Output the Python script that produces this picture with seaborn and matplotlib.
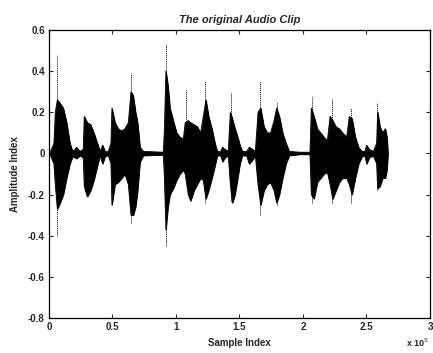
import numpy as np
import pandas as pd
import seaborn as sns
import matplotlib
matplotlib.use("Agg")
import matplotlib.pyplot as plt

# envelope of the clip, sample index in units of 1e5
sample_e5 = [0.008, 0.039, 0.050, 0.066, 0.081, 0.113, 0.139, 0.165, 0.186, 0.205,
             0.218, 0.244, 0.270, 0.278, 0.302, 0.328, 0.354, 0.381, 0.402, 0.423,
             0.441, 0.467, 0.488, 0.496, 0.520, 0.546, 0.572, 0.598, 0.625, 0.646,
             0.664, 0.682, 0.698, 0.717, 0.743, 0.900, 0.908, 0.921, 0.937, 0.953,
             0.979, 1.005, 1.031, 1.058, 1.073, 1.097, 1.115, 1.142, 1.168, 1.194,
             1.215, 1.236, 1.257, 1.283, 1.307, 1.325, 1.352, 1.367, 1.386, 1.412,
             1.428, 1.444, 1.465, 1.486, 1.504, 1.522, 1.556, 1.577, 1.604, 1.625,
             1.646, 1.667, 1.693, 1.719, 1.745, 1.772, 1.793, 1.814, 1.840, 1.866,
             1.892, 1.976, 2.055, 2.066, 2.087, 2.113, 2.139, 2.165, 2.192, 2.213,
             2.234, 2.260, 2.286, 2.312, 2.344, 2.365, 2.386, 2.412, 2.438, 2.465,
             2.488, 2.501, 2.522, 2.554, 2.580, 2.588, 2.606, 2.627, 2.648, 2.661,
             2.669]
upper = [0.003, 0.05, 0.20, 0.26, 0.25, 0.22, 0.15, 0.05, 0.01, 0.02,
         0.03, 0.01, 0.02, 0.18, 0.15, 0.14, 0.10, 0.05, 0.01, 0.04,
         0.01, 0.008, 0.05, 0.22, 0.15, 0.12, 0.11, 0.12, 0.15, 0.30,
         0.28, 0.20, 0.15, 0.03, 0.01, 0.006, 0.10, 0.40, 0.33, 0.22,
         0.16, 0.10, 0.08, 0.07, 0.15, 0.16, 0.15, 0.14, 0.13, 0.10,
         0.18, 0.26, 0.18, 0.12, 0.05, 0.01, 0.01, 0.03, 0.02, 0.01,
         0.20, 0.17, 0.12, 0.08, 0.04, 0.01, 0.01, 0.03, 0.02, 0.01,
         0.20, 0.22, 0.13, 0.10, 0.10, 0.16, 0.22, 0.18, 0.10, 0.05,
         0.01, 0.006, 0.006, 0.22, 0.18, 0.12, 0.10, 0.08, 0.06, 0.18,
         0.16, 0.13, 0.12, 0.10, 0.08, 0.18, 0.17, 0.08, 0.03, 0.01,
         0.01, 0.04, 0.02, 0.01, 0.05, 0.20, 0.13, 0.10, 0.12, 0.08,
         0.0]
lower = [-0.003, -0.05, -0.15, -0.27, -0.25, -0.20, -0.12, -0.05, -0.015, -0.02,
         -0.025, -0.01, -0.02, -0.16, -0.21, -0.18, -0.13, -0.06, -0.01, -0.05,
         -0.015, -0.008, -0.05, -0.25, -0.15, -0.14, -0.12, -0.10, -0.15, -0.30,
         -0.30, -0.26, -0.18, -0.04, -0.01, -0.006, -0.10, -0.37, -0.26, -0.20,
         -0.17, -0.13, -0.10, -0.08, -0.10, -0.20, -0.23, -0.18, -0.15, -0.12,
         -0.13, -0.22, -0.18, -0.12, -0.06, -0.01, -0.01, -0.04, -0.02, -0.01,
         -0.15, -0.24, -0.20, -0.12, -0.05, -0.01, -0.01, -0.05, -0.03, -0.01,
         -0.15, -0.25, -0.18, -0.15, -0.14, -0.18, -0.24, -0.20, -0.12, -0.05,
         -0.01, -0.004, -0.004, -0.20, -0.22, -0.14, -0.12, -0.10, -0.09, -0.15,
         -0.22, -0.18, -0.14, -0.12, -0.12, -0.15, -0.20, -0.12, -0.05, -0.015,
         -0.01, -0.05, -0.02, -0.01, -0.05, -0.17, -0.16, -0.12, -0.12, -0.08,
         0.0]

# isolated peaks drawn as thin dotted strokes
spike_e5 = [0.066, 0.646, 0.921, 1.076, 1.228, 1.430, 1.661, 1.793, 2.068, 2.226, 2.375, 2.585]
spike_top = [0.48, 0.39, 0.53, 0.31, 0.35, 0.30, 0.35, 0.25, 0.28, 0.27, 0.22, 0.25]
spike_bot = [-0.40, -0.34, -0.45, -0.12, -0.24, -0.23, -0.30, -0.25, -0.24, -0.24, -0.24, -0.18]

xticks = [0, 0.5, 1, 1.5, 2, 2.5, 3]
xtick_labels = ["0", "0.5", "1", "1.5", "2", "2.5", "3"]
yticks = [-0.8, -0.6, -0.4, -0.2, 0, 0.2, 0.4, 0.6]
ytick_labels = ["-0.8", "-0.6", "-0.4", "-0.2", "0", "0.2", "0.4", "0.6"]

sns.set_style("ticks")
plt.rcParams['font.family'] = ['Liberation Sans', 'DejaVu Sans']

df = pd.DataFrame({'sample': sample_e5, 'upper': upper, 'lower': lower})

fig = plt.figure(figsize=(4.33, 3.53), dpi=100)
ax = fig.add_axes([0.113, 0.099, 0.880, 0.816])

ax.fill_between(df['sample'], df['lower'], df['upper'], color='black', linewidth=0.6)
sns.lineplot(data=df, x='sample', y='upper', color='black', linewidth=0.6, ax=ax)
sns.lineplot(data=df, x='sample', y='lower', color='black', linewidth=0.6, ax=ax)
ax.vlines(spike_e5, spike_bot, spike_top, colors='black', linewidth=0.7, linestyles=(0, (1, 1)))

ax.set_xlim(0, 3)
ax.set_ylim(-0.8, 0.6)
ax.set_xticks(xticks)
ax.set_xticklabels(xtick_labels)
ax.set_yticks(yticks)
ax.set_yticklabels(ytick_labels)
ax.tick_params(direction='in', top=True, right=True, length=3, width=0.8,
               labelsize=7, pad=3)
for lab in ax.get_xticklabels() + ax.get_yticklabels():
    lab.set_fontweight('bold')
for s in ax.spines.values():
    s.set_linewidth(0.9)
    s.set_color('black')

ax.set_title('The original Audio Clip', fontsize=8, fontweight='bold', style='italic', pad=5)
ax.set_xlabel('Sample Index', fontsize=7, fontweight='bold', labelpad=4)
ax.set_ylabel('Amplitude Index', fontsize=7, fontweight='bold', labelpad=6)
fig.text(0.99, 0.012, r'x 10$^5$', ha='right', va='bottom',
         fontsize=6.5, fontweight='bold')

fig.savefig('out.png', dpi=100)
